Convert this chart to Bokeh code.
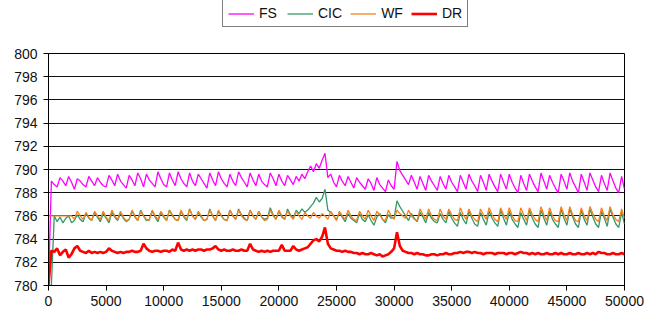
from bokeh.plotting import figure
from bokeh.layouts import column
from bokeh.models import Legend, LegendItem, FixedTicker
from bokeh.embed import file_html
from bokeh.resources import INLINE

x_step = 250

FS = [
    780, 789.0, 788.7, 788.5, 789.3, 789.0, 788.6, 789.4, 788.9, 788.3, 789.2, 789.0, 788.7, 788.5, 789.4, 789.0, 788.6, 789.3, 788.9, 788.6,
    788.5, 789.5, 789.1, 788.6, 789.6, 789.0, 788.7, 788.4, 789.5, 789.1, 788.6, 789.7, 789.2, 788.5, 789.6, 789.1, 788.8, 788.5, 789.8, 789.2,
    788.7, 788.5, 789.7, 789.1, 788.6, 789.8, 789.2, 788.8, 788.5, 789.7, 789.0, 788.6, 789.6, 789.2, 788.8, 788.4, 789.7, 789.1, 788.6, 789.8,
    789.2, 788.8, 788.5, 789.6, 789.0, 788.6, 789.8, 789.3, 788.9, 788.5, 789.7, 789.1, 788.6, 789.6, 789.0, 788.7, 788.5, 789.7, 789.2, 788.6,
    789.6, 789.0, 788.6, 789.5, 789.1, 788.7, 789.4, 789.0, 789.6, 789.2, 789.8, 790.3, 789.8, 790.5, 790.1, 790.8, 791.4, 789.3, 789.6, 788.9,
    788.5, 789.5, 789.0, 788.6, 789.4, 788.9, 788.4, 789.3, 788.9, 788.6, 788.3, 789.2, 788.8, 788.2, 789.3, 788.7, 788.4, 788.1, 789.1, 788.6,
    788.3, 790.7, 789.9, 789.5, 789.1, 788.7, 789.5, 788.9, 788.3, 789.4, 788.8, 788.2, 789.5, 789.0, 788.6, 788.2, 789.4, 788.8, 788.3, 789.5,
    788.9, 788.5, 788.1, 789.5, 788.9, 788.3, 789.6, 789.0, 788.6, 788.1, 789.5, 788.9, 788.2, 789.6, 789.0, 788.5, 788.1, 789.6, 788.9, 788.3,
    789.6, 788.9, 788.4, 788.0, 789.5, 788.8, 788.2, 789.6, 789.0, 788.5, 788.1, 789.7, 789.0, 788.3, 789.5, 788.9, 788.4, 788.0, 789.6, 789.0,
    788.3, 789.7, 789.0, 788.5, 788.0, 789.6, 788.9, 788.2, 789.7, 789.1, 788.5, 788.1, 789.5, 788.8, 788.2, 789.7, 789.0, 788.4, 788.0, 789.4,
    788.3,
]

CIC = [
    780, 780, 786.0, 785.5, 785.9, 785.4, 785.8, 786.0, 785.4, 785.6, 786.1, 785.7, 785.5, 786.2, 785.8, 785.6, 786.3, 785.9, 785.5, 786.2,
    785.8, 785.4, 786.3, 785.9, 785.6, 786.2, 785.8, 785.5, 785.7, 786.4, 785.9, 785.6, 786.5, 786.0, 785.6, 785.7, 786.4, 785.9, 785.5, 786.3,
    785.9, 785.6, 786.5, 786.0, 785.7, 785.6, 786.4, 785.9, 785.6, 786.6, 786.0, 785.7, 786.3, 785.9, 785.6, 785.7, 786.6, 786.0, 785.6, 786.4,
    786.0, 785.7, 785.6, 786.5, 786.0, 785.7, 786.6, 786.1, 785.8, 785.6, 786.5, 786.0, 785.7, 786.4, 785.9, 785.7, 785.8, 786.7, 786.1, 785.7,
    786.4, 785.9, 785.7, 786.6, 786.1, 785.8, 786.5, 786.2, 786.6, 786.3, 786.5, 786.8, 787.1, 787.6, 787.2, 787.5, 788.3, 786.5, 786.3, 786.0,
    785.7, 786.3, 785.9, 785.5, 786.2, 785.8, 785.6, 785.4, 786.2, 785.7, 785.5, 786.1, 785.6, 785.2, 785.9, 786.2, 785.7, 785.4, 786.1, 785.8,
    785.8, 787.3, 786.8, 786.4, 786.0, 785.6, 786.2, 785.8, 785.5, 786.3, 785.9, 785.4, 786.3, 785.8, 785.5, 785.4, 786.2, 785.7, 785.4, 786.4,
    785.8, 785.4, 785.1, 786.3, 785.7, 785.3, 786.4, 785.8, 785.3, 785.1, 786.3, 785.7, 785.2, 786.4, 785.8, 785.4, 785.1, 786.5, 785.8, 785.2,
    786.4, 785.7, 785.3, 785.0, 786.3, 785.7, 785.2, 786.5, 785.8, 785.3, 785.0, 786.5, 785.8, 785.2, 786.4, 785.7, 785.3, 785.0, 786.6, 785.8,
    785.2, 786.6, 785.9, 785.3, 785.0, 786.5, 785.7, 785.2, 786.6, 785.9, 785.3, 785.0, 786.4, 785.8, 785.1, 786.6, 785.9, 785.3, 785.0, 786.3,
    785.3,
]

WF = [
    786.0, 786.0, 786.0, 786.0, 786.0, 786.0, 786.0, 786.0, 786.0, 785.7, 786.4, 786.0, 785.7, 786.3, 785.9, 785.6, 786.4, 786.0, 785.7, 786.4,
    785.9, 785.6, 786.5, 786.0, 785.7, 786.4, 785.9, 785.6, 785.7, 786.5, 786.0, 785.6, 786.4, 786.0, 785.7, 785.6, 786.5, 786.0, 785.7, 786.4,
    786.0, 785.6, 786.5, 786.1, 785.7, 785.6, 786.5, 786.0, 785.7, 786.6, 786.0, 785.7, 786.4, 786.0, 785.6, 785.7, 786.5, 786.0, 785.6, 786.5,
    786.0, 785.7, 785.6, 786.5, 786.0, 785.7, 786.5, 786.0, 785.7, 785.6, 786.5, 786.0, 785.7, 786.4, 785.9, 785.6, 785.7, 786.5, 786.0, 785.7,
    786.5, 786.0, 785.7, 786.4, 786.0, 785.7, 786.4, 786.0, 785.7, 786.3, 786.0, 785.8, 786.3, 786.0, 785.8, 786.2, 786.0, 785.7, 786.4, 786.0,
    785.6, 786.4, 786.0, 785.7, 786.5, 786.0, 785.7, 785.6, 786.4, 786.0, 785.7, 786.5, 786.0, 785.6, 786.4, 786.1, 785.7, 785.6, 786.5, 786.0,
    785.7, 786.5, 786.2, 786.0, 785.8, 786.5, 786.0, 785.7, 785.6, 786.6, 786.1, 785.7, 786.6, 786.0, 785.7, 785.6, 786.6, 786.0, 785.7, 786.6,
    786.1, 785.7, 785.6, 786.7, 786.1, 785.7, 786.6, 786.0, 785.7, 785.5, 786.6, 786.1, 785.7, 786.7, 786.1, 785.7, 785.5, 786.7, 786.1, 785.7,
    786.7, 786.0, 785.6, 785.5, 786.7, 786.1, 785.6, 786.7, 786.1, 785.7, 785.5, 786.8, 786.1, 785.6, 786.7, 786.0, 785.6, 785.5, 786.8, 786.1,
    785.6, 786.8, 786.1, 785.6, 785.5, 786.7, 786.0, 785.6, 786.8, 786.2, 785.7, 785.5, 786.7, 786.0, 785.6, 786.8, 786.1, 785.7, 785.5, 786.6,
    785.8,
]

DR = [
    780, 783.0, 782.9, 783.2, 782.6, 782.9, 783.1, 782.4, 782.7, 783.2, 783.4, 783.0, 782.9, 782.8, 783.0, 782.8, 782.9, 782.8, 782.9, 782.8,
    782.9, 783.2, 783.0, 782.9, 782.8, 782.9, 782.8, 782.9, 782.9, 783.0, 782.9, 782.9, 783.0, 783.6, 783.2, 783.0, 782.9, 783.0, 783.0, 782.9,
    783.0, 783.0, 782.9, 783.1, 783.0, 783.7, 783.1, 783.0, 783.1, 783.0, 783.1, 783.0, 783.1, 783.1, 783.0, 783.1, 783.1, 783.2, 783.4, 783.1,
    783.0, 783.1, 783.0, 783.0, 783.1, 783.0, 783.0, 783.1, 783.0, 783.0, 783.6, 783.1, 783.0, 782.9, 783.0, 782.9, 783.0, 782.9, 783.0, 783.0,
    783.0, 783.5, 783.0, 783.0, 783.0, 783.4, 783.1, 783.0, 783.1, 783.2, 783.3, 783.6, 783.9, 784.0, 783.8, 784.2, 785.0, 783.6, 783.2, 783.1,
    783.0, 783.0, 782.9, 783.0, 782.9, 782.9, 782.8, 782.8, 782.7, 782.8, 782.7, 782.7, 782.8, 782.7, 782.6, 782.7, 782.5, 782.6, 782.7, 782.9,
    783.2, 784.6, 783.4, 783.0, 782.9, 782.8, 782.8, 782.7, 782.8, 782.7, 782.7, 782.6, 782.6, 782.7, 782.7, 782.6, 782.7, 782.7, 782.8, 782.7,
    782.7, 782.8, 782.8, 782.9, 782.8, 782.9, 782.9, 782.8, 782.9, 782.8, 782.8, 782.7, 782.8, 782.8, 782.8, 782.7, 782.8, 782.8, 782.8, 782.7,
    782.8, 782.8, 782.7, 782.8, 782.9, 782.8, 782.8, 782.7, 782.8, 782.7, 782.8, 782.7, 782.7, 782.8, 782.7, 782.7, 782.8, 782.7, 782.8, 782.7,
    782.7, 782.8, 782.7, 782.7, 782.8, 782.7, 782.7, 782.8, 782.7, 782.8, 782.7, 782.9, 782.8, 782.8, 782.7, 782.7, 782.8, 782.7, 782.7, 782.8,
    782.7,
]

x_vals = [i * x_step for i in range(len(FS))]

series_names = ["FS", "CIC", "WF", "DR"]
series_colors = ["#FF00FF", "#339966", "#F5821F", "#FF0000"]
series_widths = [1.3, 1.3, 1.3, 2.6]

x_ticks = [0, 5000, 10000, 15000, 20000, 25000, 30000, 35000, 40000, 45000, 50000]
y_ticks = [780, 782, 784, 786, 788, 790, 792, 794, 796, 798, 800]

BL, BR = 48, 20  # shared left/right borders (column aligns frames)

# ---- legend strip (separate small figure on top) ----
leg_fig = figure(width=644, height=31, output_backend="svg", toolbar_location=None,
                 x_axis_type=None, y_axis_type=None, x_range=(0, 1), y_range=(0, 1),
                 min_border_left=BL, min_border_right=BR, min_border_top=0, min_border_bottom=0)
leg_fig.outline_line_color = None
leg_fig.xgrid.grid_line_color = None
leg_fig.ygrid.grid_line_color = None
leg_renderers = []
for col, w in zip(series_colors, series_widths):
    # single NaN row: nothing drawn in the strip, but the legend gets a glyph
    leg_renderers.append(leg_fig.line(x=[float("nan")], y=[float("nan")], line_color=col, line_width=w))
legend = Legend(items=[LegendItem(label=n, renderers=[r]) for n, r in zip(series_names, leg_renderers)],
                orientation="horizontal", location=(174, 4),
                border_line_color="black", border_line_width=1,
                label_text_font="Liberation Sans", label_text_font_size="14px",
                label_text_color="#111111",
                glyph_width=26, glyph_height=15, label_height=15,
                label_standoff=5, spacing=8, padding=5, margin=0,
                background_fill_color="white", background_fill_alpha=1)
leg_fig.add_layout(legend)

# ---- main chart ----
p = figure(width=644, height=280, output_backend="svg", toolbar_location=None,
           x_range=(0, 50000), y_range=(780, 800),
           min_border_left=BL, min_border_right=BR, min_border_top=22, min_border_bottom=26)

for name, data, col, w in zip(series_names, [FS, CIC, WF, DR], series_colors, series_widths):
    p.line(x_vals, data, line_color=col, line_width=w)

p.xaxis.ticker = FixedTicker(ticks=x_ticks)
p.yaxis.ticker = FixedTicker(ticks=y_ticks)
for ax in [p.xaxis[0], p.yaxis[0]]:
    ax.major_label_text_font = "Liberation Sans"
    ax.major_label_text_font_size = "14px"
    ax.major_label_text_color = "#111111"
    ax.axis_line_color = "black"
    ax.major_tick_line_color = "black"
    ax.major_tick_out = 5
    ax.major_tick_in = 0
    ax.minor_tick_line_color = None
p.xaxis.major_label_standoff = 5
p.yaxis.major_label_standoff = 6

p.xgrid.grid_line_color = None
p.ygrid.grid_line_color = "#111111"
p.ygrid.grid_line_width = 1
p.outline_line_color = "black"
p.background_fill_color = "white"
p.border_fill_color = "white"

layout = column(leg_fig, p, spacing=0)
open("out.html", "w").write(file_html(layout, INLINE))
